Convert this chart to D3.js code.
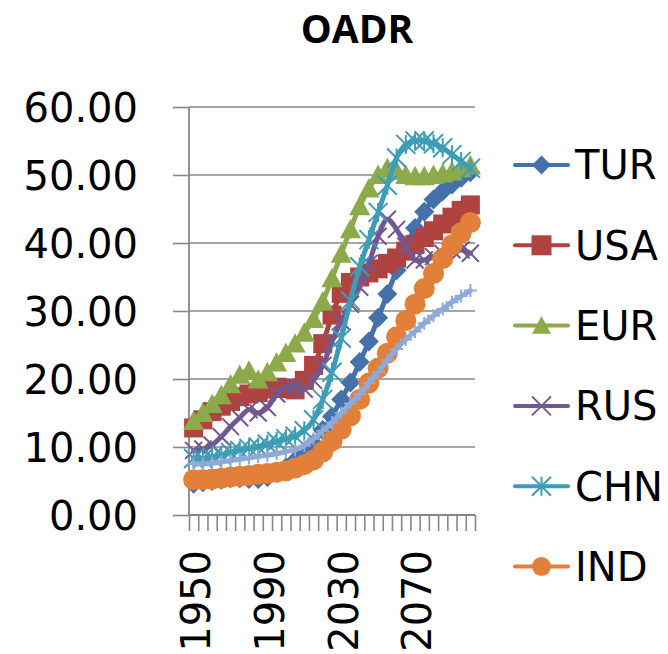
<!DOCTYPE html>
<html>
<head>
<meta charset="utf-8">
<script src="https://cdn.jsdelivr.net/npm/d3@7"></script>
<style>
  body { margin: 0; background: #fff; }
  svg { display: block; }
  .tick text { font-family: "DejaVu Sans", sans-serif; }
</style>
</head>
<body>
<div class="chart"></div>
<script>
// data
var years = [1950, 1955, 1960, 1965, 1970, 1975, 1980, 1985, 1990, 1995,
	2000, 2005, 2010, 2015, 2020, 2025, 2030, 2035, 2040, 2045,
	2050, 2055, 2060, 2065, 2070, 2075, 2080, 2085, 2090, 2095, 2100];
var yTicks = [0, 10, 20, 30, 40, 50, 60];
var xLabels = [1950, 1990, 2030, 2070];

var tur = [4.6, 4.8, 5.0, 5.2, 5.4, 5.4, 5.3, 5.3, 5.6, 6.2,
	7.0, 8.0, 9.0, 10.5, 12.5, 14.5, 17.0, 19.5, 22.5, 25.5,
	29.0, 32.5, 36.0, 39.5, 42.2, 44.6, 46.4, 47.6, 48.6, 49.6, 50.4];
var usa = [12.8, 14.0, 15.2, 16.0, 16.7, 17.4, 17.8, 18.0, 18.5, 18.8,
	18.6, 18.4, 19.8, 22.0, 25.2, 29.4, 32.6, 34.2, 35.0, 35.6,
	36.2, 37.0, 37.8, 38.8, 39.8, 40.8, 41.8, 42.8, 43.8, 44.8, 45.6];
var eur = [13.8, 15.0, 16.3, 17.6, 19.2, 20.6, 21.2, 19.9, 21.0, 22.4,
	23.8, 25.2, 26.8, 28.8, 31.4, 34.8, 38.4, 42.0, 45.4, 48.0,
	50.0, 51.0, 50.6, 50.0, 49.8, 49.8, 50.0, 50.2, 50.5, 51.0, 51.4];
var rus = [9.5, 9.7, 10.3, 11.5, 13.0, 14.3, 15.5, 15.0, 15.8, 17.8,
	18.8, 18.8, 18.5, 19.8, 22.0, 25.5, 28.5, 31.0, 33.5, 37.0,
	41.0, 43.5, 42.0, 39.5, 37.5, 37.5, 38.0, 38.5, 39.0, 39.0, 38.5];
var chn = [8.3, 8.3, 8.5, 8.8, 9.2, 9.5, 9.8, 10.0, 10.4, 10.8,
	11.2, 11.6, 12.4, 14.0, 17.0, 21.0, 26.0, 31.5, 36.5, 40.5,
	44.5, 48.5, 52.5, 54.5, 55.0, 55.0, 54.6, 54.0, 53.0, 52.0, 51.0];
var ind = [5.2, 5.2, 5.3, 5.4, 5.6, 5.7, 5.8, 6.0, 6.1, 6.3,
	6.5, 6.9, 7.4, 8.1, 9.3, 10.9, 12.6, 14.6, 17.0, 19.4,
	21.6, 23.8, 26.2, 28.6, 31.0, 33.3, 35.5, 37.7, 39.7, 41.5, 43.0];
// 7th series, its legend entry does not fit in the legend box
var wld = [7.5, 7.5, 7.6, 7.8, 8.0, 8.2, 8.4, 8.6, 8.8, 9.0,
	9.3, 9.6, 10.2, 11.2, 12.4, 13.6, 15.0, 16.4, 17.8, 19.4,
	21.0, 22.8, 24.4, 25.8, 27.0, 28.2, 29.3, 30.3, 31.3, 32.2, 33.0];

var series = [
	{ name: 'TUR', values: tur, color: '#4471AB', marker: 'diamond' },
	{ name: 'USA', values: usa, color: '#B0433F', marker: 'square' },
	{ name: 'EUR', values: eur, color: '#8DAA4B', marker: 'triangle' },
	{ name: 'RUS', values: rus, color: '#715891', marker: 'x' },
	{ name: 'CHN', values: chn, color: '#3E9DB6', marker: 'star' },
	{ name: 'IND', values: ind, color: '#E2803A', marker: 'circle' },
	{ name: 'WLD', values: wld, color: '#8FAAD6', marker: 'plus' }
];
var legendCount = 6;

// options
var width = 668,
	height = 654,
	plotLeft = 189,
	plotRight = 475,
	plotTop = 107,
	plotBottom = 515,
	gridColor = '#878787',
	font = '"DejaVu Sans", sans-serif';

var svg = d3.select('.chart')
	.append('svg')
	.attr('width', width)
	.attr('height', height);

// scales
var x = d3.scaleBand()
	.domain(years)
	.range([plotLeft, plotRight]);

var xEdge = d3.scaleLinear()
	.domain([0, years.length])
	.range([plotLeft, plotRight]);

var y = d3.scaleLinear()
	.domain([0, 60])
	.range([plotBottom, plotTop]);

// title
svg.append('text')
	.attr('x', 357)
	.attr('y', 43)
	.attr('text-anchor', 'middle')
	.style('font-family', '"Open Sans", sans-serif')
	.style('font-weight', 'bold')
	.style('font-size', '39px')
	.text('OADR');

// gridlines
svg.append('g').selectAll('line')
	.data(yTicks.slice(1))
	.enter()
	.append('line')
	.attr('x1', plotLeft)
	.attr('x2', plotRight)
	.attr('y1', function(d) { return y(d); })
	.attr('y2', function(d) { return y(d); })
	.attr('stroke', gridColor)
	.attr('stroke-width', 1.6);

// y axis
var yAxis = d3.axisLeft(y)
	.tickValues(yTicks)
	.tickSize(16)
	.tickPadding(35)
	.tickFormat(d3.format('.2f'));

var gy = svg.append('g')
	.attr('transform', 'translate(' + plotLeft + ',0)')
	.call(yAxis);
gy.select('.domain').remove();
gy.selectAll('.tick line').attr('stroke', gridColor).attr('stroke-width', 1.6);
gy.selectAll('.tick text')
	.attr('dy', '0.36em')
	.style('font-size', '40px')
	.attr('fill', '#000');
gy.append('line')
	.attr('x1', 0).attr('x2', 0)
	.attr('y1', plotTop).attr('y2', plotBottom)
	.attr('stroke', gridColor)
	.attr('stroke-width', 1.8);

// x axis - ticks between categories
var xAxis = d3.axisBottom(xEdge)
	.tickValues(d3.range(years.length + 1))
	.tickSize(16)
	.tickFormat('');

var gx = svg.append('g')
	.attr('transform', 'translate(0,' + plotBottom + ')')
	.call(xAxis);
gx.select('.domain')
	.attr('d', 'M' + plotLeft + ',0H' + plotRight)
	.attr('stroke', gridColor)
	.attr('stroke-width', 1.8);
gx.selectAll('.tick line').attr('stroke', gridColor).attr('stroke-width', 1.6);

// x labels, rotated
svg.append('g').selectAll('text')
	.data(xLabels)
	.enter()
	.append('text')
	.attr('transform', function(d) {
		return 'translate(' + (x(d) + x.bandwidth() / 2 + 2) + ',550) rotate(-90)';
	})
	.attr('dy', '0.36em')
	.attr('text-anchor', 'end')
	.style('font-family', font)
	.style('font-size', '40px')
	.text(function(d) { return d; });

// markers
function markerPath(type, s) {
	var h = s / 2;
	if (type === 'diamond') return 'M0,' + (-h) + 'L' + h + ',0L0,' + h + 'L' + (-h) + ',0Z';
	if (type === 'square') return 'M' + (-h) + ',' + (-h) + 'h' + s + 'v' + s + 'h' + (-s) + 'Z';
	if (type === 'triangle') return 'M0,' + (-h) + 'L' + h + ',' + (h * 0.85) + 'L' + (-h) + ',' + (h * 0.85) + 'Z';
	if (type === 'x') return 'M' + (-h) + ',' + (-h) + 'L' + h + ',' + h + 'M' + h + ',' + (-h) + 'L' + (-h) + ',' + h;
	if (type === 'star') return 'M' + (-h) + ',' + (-h) + 'L' + h + ',' + h + 'M' + h + ',' + (-h) + 'L' + (-h) + ',' + h + 'M0,' + (-h) + 'V' + h;
	if (type === 'plus') return 'M' + (-h) + ',0H' + h + 'M0,' + (-h) + 'V' + h;
	return null;
}
var markerSize = { diamond: 20, square: 19, triangle: 21, x: 17, star: 19, circle: 21, plus: 13 };

function drawMarker(g, type, color, s) {
	if (type === 'circle') {
		g.append('circle').attr('r', s / 2).attr('fill', color);
	} else if (type === 'x' || type === 'star' || type === 'plus') {
		g.append('path').attr('d', markerPath(type, s))
			.attr('stroke', color).attr('stroke-width', 2).attr('fill', 'none');
	} else {
		g.append('path').attr('d', markerPath(type, s)).attr('fill', color);
	}
}

// lines + markers
var line = d3.line()
	.x(function(d, i) { return x(years[i]) + x.bandwidth() / 2; })
	.y(function(d) { return y(d); })
	.curve(d3.curveCatmullRom.alpha(0.5));

var plot = svg.append('g').attr('class', 'series');
series.forEach(function(s) {
	var g = plot.append('g');
	g.append('path')
		.attr('d', line(s.values))
		.attr('fill', 'none')
		.attr('stroke', s.color)
		.attr('stroke-width', 5)
		.attr('stroke-linejoin', 'round')
		.attr('stroke-linecap', 'round');
	s.values.forEach(function(v, i) {
		var m = g.append('g')
			.attr('transform', 'translate(' + (x(years[i]) + x.bandwidth() / 2) + ',' + y(v) + ')');
		drawMarker(m, s.marker, s.color, markerSize[s.marker]);
	});
});

// legend
var legend = svg.append('g').selectAll('g')
	.data(series.slice(0, legendCount))
	.enter()
	.append('g')
	.attr('transform', function(d, i) { return 'translate(0,' + (165 + i * 80.3) + ')'; });

legend.append('line')
	.attr('x1', 515).attr('x2', 568)
	.attr('stroke', function(d) { return d.color; })
	.attr('stroke-width', 4)
	.attr('stroke-linecap', 'round');

legend.each(function(d) {
	var m = d3.select(this).append('g').attr('transform', 'translate(541.5,0)');
	drawMarker(m, d.marker, d.color, d.marker === 'square' ? 20 : 19);
});

legend.append('text')
	.attr('x', 575)
	.attr('dy', '0.36em')
	.style('font-family', font)
	.style('font-size', '40px')
	.text(function(d) { return d.name; });
</script>
</body>
</html>
